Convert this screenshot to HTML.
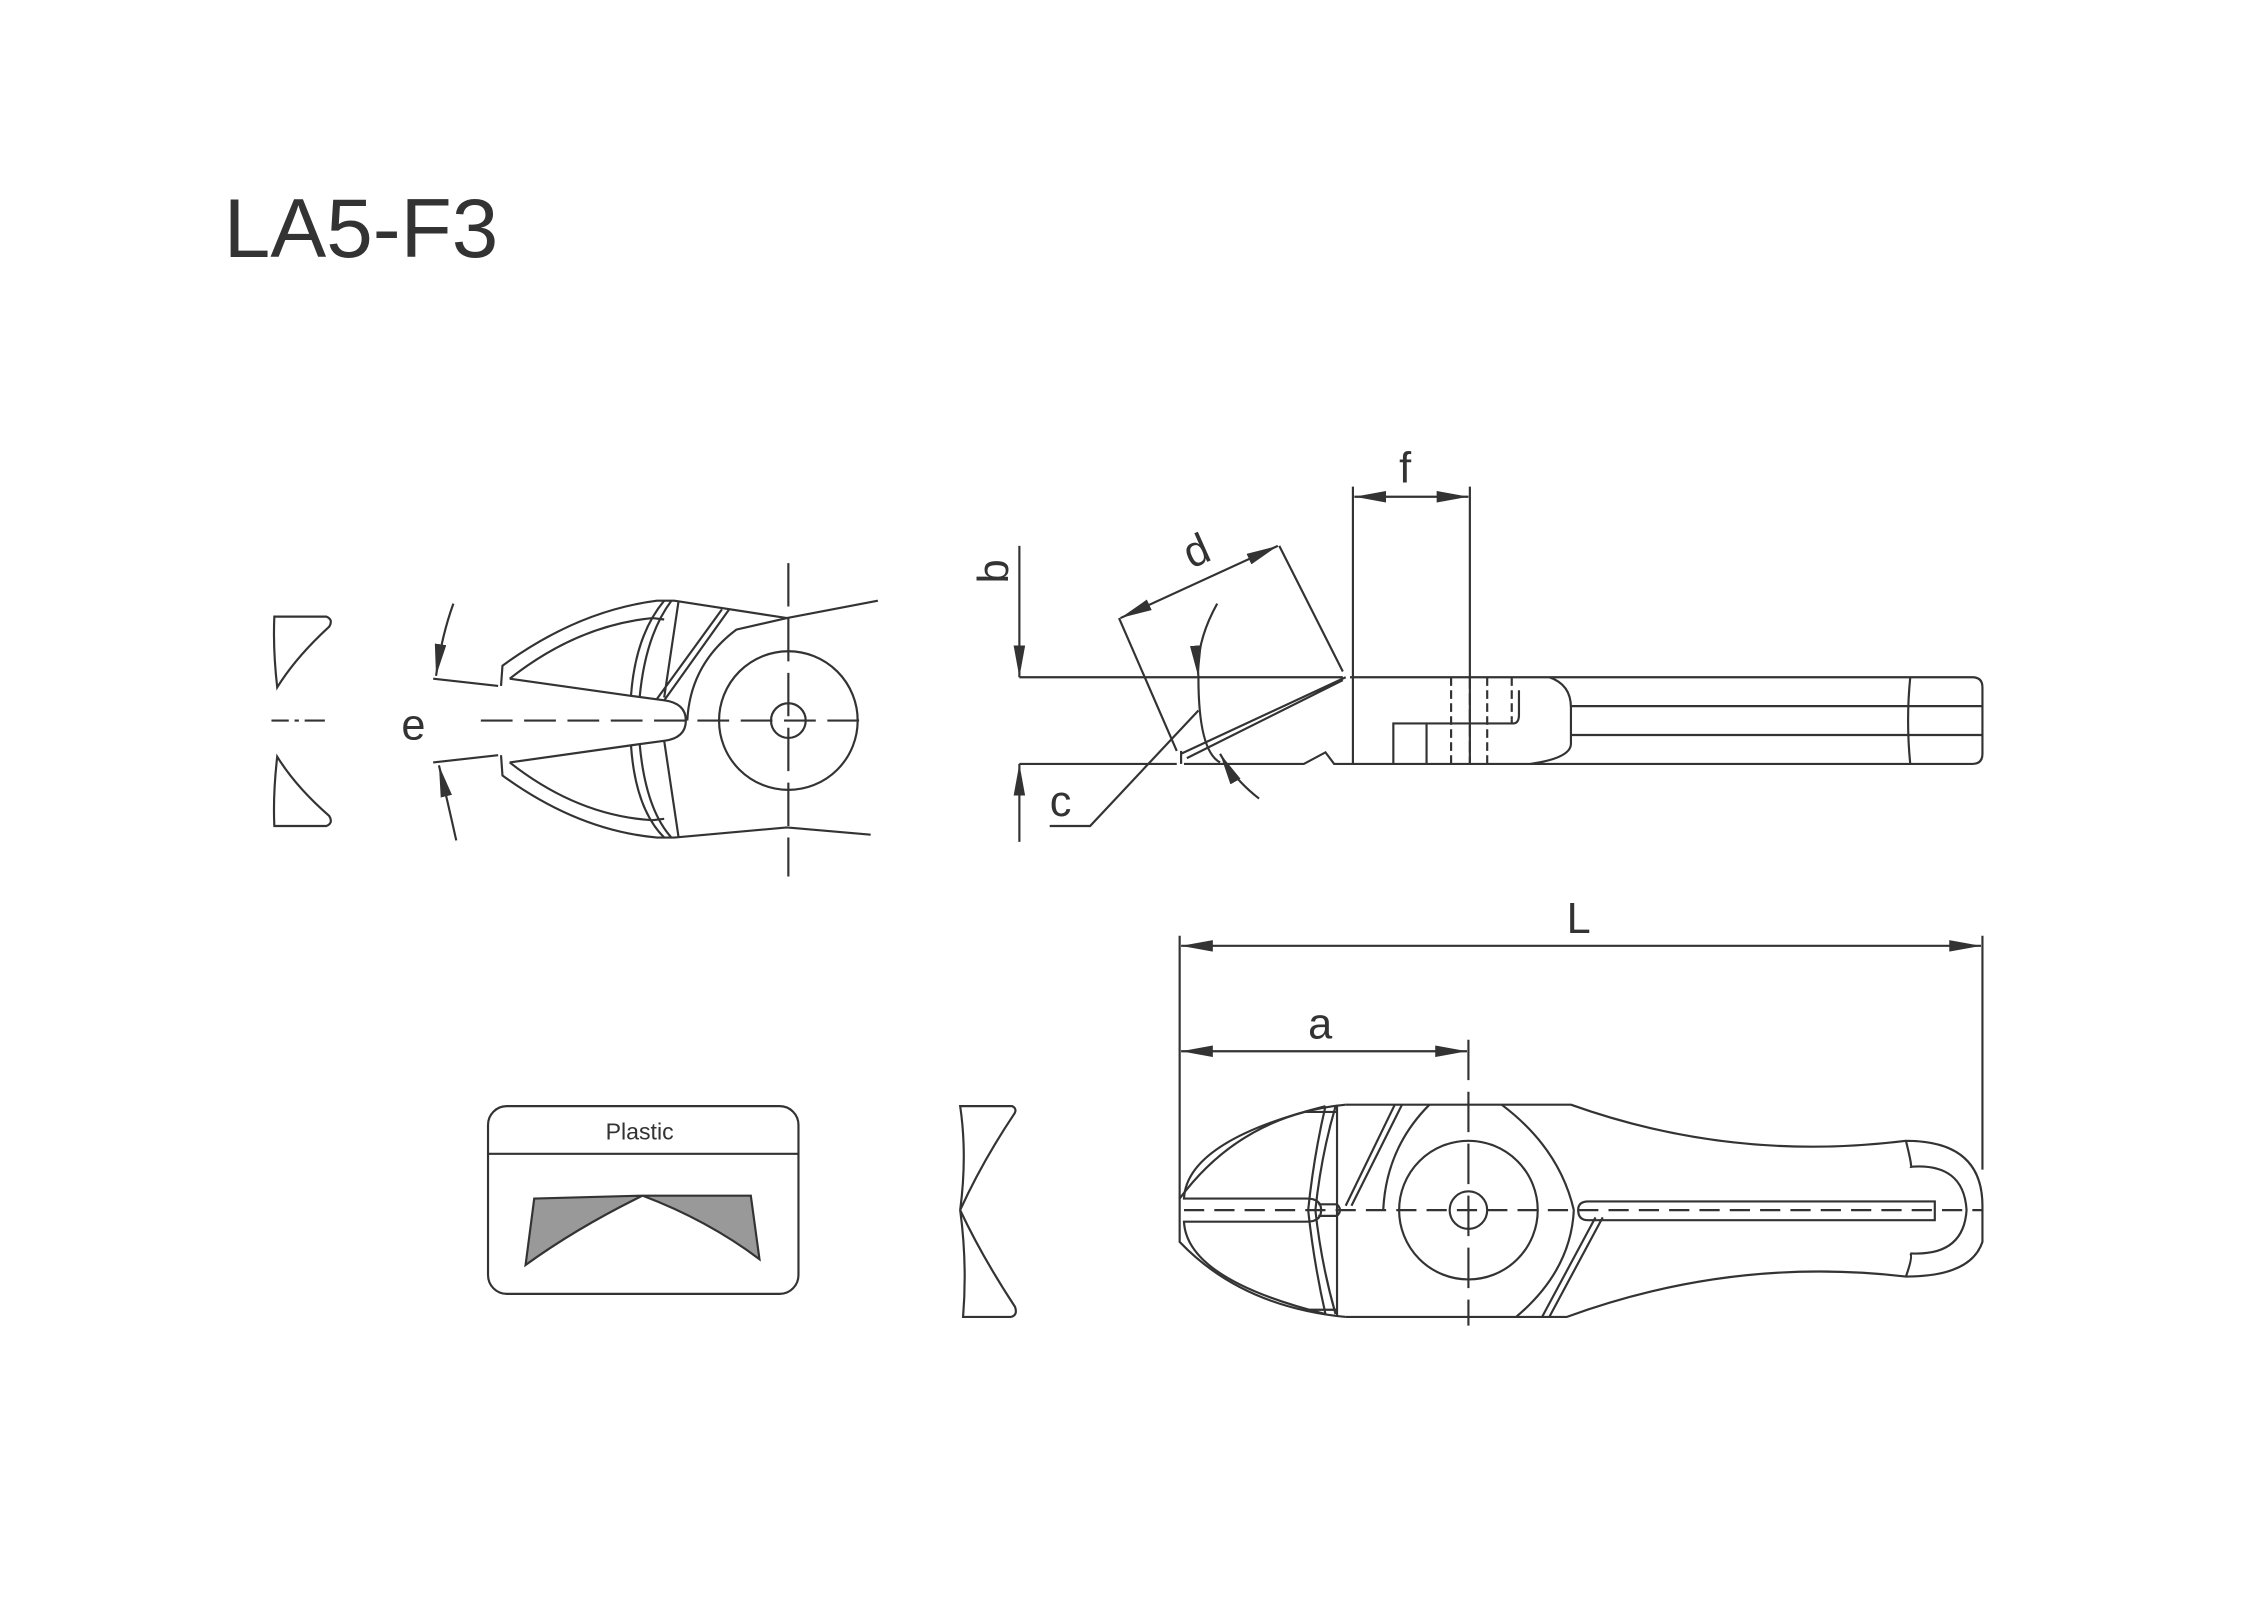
<!DOCTYPE html>
<html><head><meta charset="utf-8"><style>
html,body{margin:0;padding:0;background:#fff;}
svg{display:block;}
text{font-family:"Liberation Sans",Arial,sans-serif;fill:#333;}
</style></head><body>
<svg width="2264" height="1600" viewBox="0 0 1568 1108" preserveAspectRatio="none" xmlns="http://www.w3.org/2000/svg">
<defs>
<marker id="ar" viewBox="0 0 10 10" refX="10" refY="5" markerWidth="22" markerHeight="8" markerUnits="userSpaceOnUse" preserveAspectRatio="none" orient="auto-start-reverse"><path d="M0,0 L10,5 L0,10 Z" fill="#333" stroke="none"/></marker>
</defs>
<g fill="none" stroke="#333" stroke-width="1.5">
<text x="155" y="178" font-size="58" stroke="none">LA5-F3</text>

<!-- left small profiles -->
<path d="M190,427 L226,427 Q231,429 228,434 Q205,455 192,476 Q189,450 190,427 Z"/>
<path d="M190,572 L226,572 Q231,570 228,565 Q205,545 192,524 Q189,550 190,572 Z"/>
<path d="M188,499 L200,499 M204,499 L207,499 M211,499 L225,499"/>
<text x="278" y="512" font-size="30" stroke="none">e</text>

<!-- front jaw view -->
<path d="M333,499 H598" stroke-dasharray="22,8"/>
<path d="M546,390 V607" stroke-dasharray="30,8"/>
<circle cx="546" cy="499" r="48"/>
<circle cx="546" cy="499" r="12"/>
<path d="M300,470 L345,475 M300,528 L345,523"/>
<path d="M314,418 Q306,440 302,468" marker-end="url(#ar)"/>
<path d="M316,582 Q310,555 304,530" marker-end="url(#ar)"/>
<!-- upper jaw -->
<path d="M347,475 L348,461 Q400,423 455,416 L467,416 L545,428 L608,416"/>
<path d="M353,470 Q400,433 452,428 L460,429 M353,470 L438,482 L460,485 Q475,487 475,499 Q475,511 460,513 L438,516 L353,528"/>
<path d="M460,416 Q440,440 437,482 M465,416 Q447,440 443,483 M470,416 L460,483 M500,422 L455,484 M505,422 L460,485 M545,428 L510,436 Q478,460 476,499"/>
<!-- lower jaw -->
<path d="M347,523 L348,537 Q400,575 455,580 L467,580 L545,573 L603,578"/>
<path d="M353,528 Q400,565 452,568 L460,567 M437,516 Q440,560 460,580 M443,515 Q447,560 465,580 M460,513 L470,580"/>

<!-- side view -->
<path d="M706,469 H930 M706,529 H815 M820,529 H903 L918,521 L924,529 H935"/>
<path d="M706,378 V469" marker-end="url(#ar)"/>
<path d="M706,583 V529" marker-end="url(#ar)"/>
<text x="698" y="404" font-size="30" stroke="none" transform="rotate(-90 698 404)">b</text>
<text x="727" y="565" font-size="30" stroke="none">c</text>
<path d="M727,572 H755 L830,492"/>
<path d="M930,465 L886,378 M815,520 L775,428"/>
<path d="M776,428 L885,378" marker-start="url(#ar)" marker-end="url(#ar)"/>
<text x="825" y="394" font-size="30" stroke="none" transform="rotate(-24 825 394)">d</text>
<path d="M843,418 Q828,445 830,469" marker-end="url(#ar)"/>
<path d="M830,469 Q830,520 845,528" />
<path d="M872,553 Q855,540 845,522" marker-end="url(#ar)"/>
<path d="M932,469 L818,522 M930,471 L822,525"/>
<path d="M818,520 V529"/>
<path d="M937,337 V529 M1018,337 V529"/>
<path d="M938,344 L1017,344" marker-start="url(#ar)" marker-end="url(#ar)"/>
<text x="969" y="334" font-size="30" stroke="none">f</text>
<path d="M935,469 H1366 Q1373,469 1373,476 V522 Q1373,529 1366,529 H935"/>
<path d="M1005,469 V529 M1030,469 V529 M1047,469 V498" stroke-dasharray="6,3"/>
<path d="M1018,469 V529" stroke-dasharray="8,3"/>
<path d="M965,529 V501 L1048,501 Q1052,501 1052,495 L1052,478"/>
<path d="M988,501 V529 M1047,498 V501"/>
<path d="M1073,469 Q1088,474 1088,490 V515 Q1088,525 1060,529"/>
<path d="M1088,489 H1373 M1088,509 H1373"/>
<path d="M1323,469 Q1320,499 1323,529"/>

<!-- dimensions bottom -->
<path d="M817,648 V830 M1373,648 V810"/>
<path d="M818,655 L1372,655" marker-start="url(#ar)" marker-end="url(#ar)"/>
<text x="1085" y="646" font-size="30" stroke="none">L</text>
<path d="M818,728 L1016,728" marker-start="url(#ar)" marker-end="url(#ar)"/>
<text x="906" y="719" font-size="30" stroke="none">a</text>
<path d="M1017,720 V918" stroke-dasharray="28,8"/>

<!-- top view body -->
<path d="M932,765 H1088 Q1200,805 1320,790 Q1373,790 1373,835 V860 Q1365,884 1320,884 Q1200,870 1085,912 H932"/>
<path d="M932,765 Q860,772 817,830 V860 Q860,905 932,912"/>
<path d="M926,765 V912 M903,770 H926 M903,907 H926"/>
<path d="M918,766 Q822,790 820,830 L905,830 Q915,830 915,838 Q915,846 905,846 L820,846 Q822,886 918,910"/>
<path d="M918,766 Q910,800 906,838 Q910,875 918,910 M925,766 Q915,800 911,838 Q915,875 925,910"/>
<path d="M966,765 L932,835 M971,765 L936,835 M990,765 Q960,795 958,838"/>
<path d="M1040,765 Q1080,795 1090,838"/>
<path d="M1090,838 Q1088,880 1050,912 M1105,843 L1068,912 M1110,843 L1073,912"/>
<circle cx="1017" cy="838" r="48"/>
<circle cx="1017" cy="838" r="13"/>
<path d="M913,834 H926 Q930,838 926,842 H913"/>
<path d="M1100,832 H1340 V845 H1100 Q1093,845 1093,838 Q1093,832 1100,832 Z"/>
<path d="M820,838 H1373" stroke-dasharray="14,7"/>
<path d="M1320,790 Q1325,810 1323,808 M1320,884 Q1325,870 1323,868"/>
<path d="M1323,808 Q1360,805 1362,838 Q1360,870 1323,868"/>

<!-- plastic box -->
<rect x="338" y="766" width="215" height="130" rx="13"/>
<path d="M338,799 H553"/>
<text x="443" y="789" font-size="16" stroke="none" text-anchor="middle">Plastic</text>
<path d="M370,830 L445,828 Q400,850 364,876 Z" fill="#999"/>
<path d="M445,828 L520,828 L526,872 Q490,845 445,828 Z" fill="#999"/>

<!-- right profile -->
<path d="M665,766 L701,766 Q705,768 702,772 Q680,805 665,838 Q680,870 703,905 Q705,911 700,912 L667,912 Q670,875 665,838 Q670,800 665,766 Z"/>
</g>
</svg>
</body></html>
